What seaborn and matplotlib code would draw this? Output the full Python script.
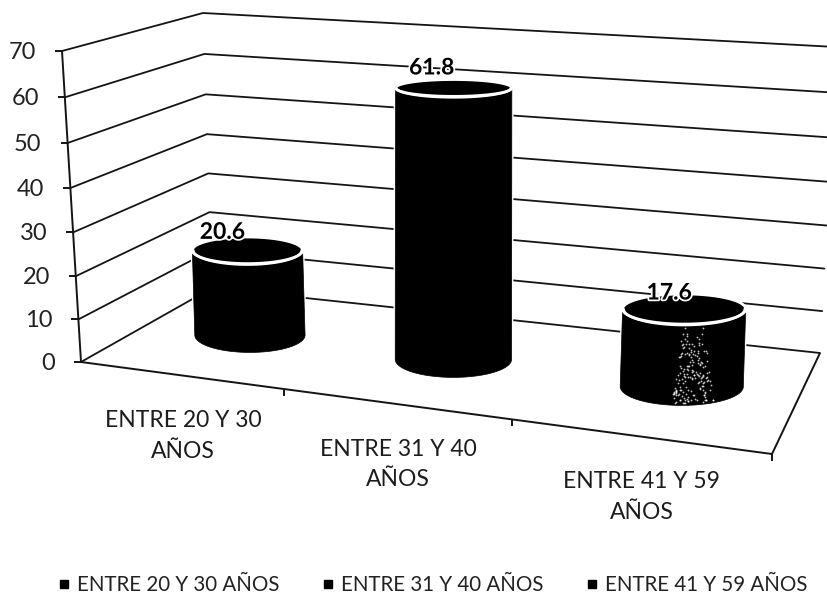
import numpy as np
import pandas as pd
import matplotlib
matplotlib.use("Agg")
import matplotlib.pyplot as plt
import matplotlib.patheffects as pe
from matplotlib.lines import Line2D
import seaborn as sns

# Chart data
categories = ["ENTRE 20 Y 30 AÑOS", "ENTRE 31 Y 40 AÑOS", "ENTRE 41 Y 59 AÑOS"]
wrapped_labels = ["ENTRE 20 Y 30\nAÑOS", "ENTRE 31 Y 40\nAÑOS", "ENTRE 41 Y 59\nAÑOS"]
values = [20.6, 61.8, 17.6]
y_ticks = [0, 10, 20, 30, 40, 50, 60, 70]
y_max = 70

# Box corners on the canvas: front-left, front-right, back-right, back-left
floor_corners = [(81, 362), (772, 454), (820, 353), (212, 288)]
ceiling_corners = [(62, 51), (802, 111), (836, 47), (203, 13)]
cylinder_depth = 0.49
cylinder_offset = 0.012

sns.set_theme(style="white")
plt.rcParams["font.family"] = ["Lato", "DejaVu Sans"]


def homography(corners):
    """Map the unit square (u along categories, d into depth) onto four corners."""
    src = [(0, 0), (1, 0), (1, 1), (0, 1)]
    A, b = [], []
    for (u, d), (x, y) in zip(src, corners):
        A.append([u, d, 1, 0, 0, 0, -u * x, -d * x])
        A.append([0, 0, 0, u, d, 1, -u * y, -d * y])
        b += [x, y]
    return np.append(np.linalg.solve(np.array(A, float), np.array(b, float)), 1).reshape(3, 3)


H_floor = homography(floor_corners)
H_ceiling = homography(ceiling_corners)


def project(u, d, v):
    """Canvas position of category position u, depth d and value v."""
    p = np.array([u, d, 1.0])
    a = H_floor @ p
    c = H_ceiling @ p
    a, c = a[:2] / a[2], c[:2] / c[2]
    t = v / y_max
    t = t / (t + 1.05 * (1 - t))  # upper gridlines sit slightly further apart
    return a + (c - a) * t


fig = plt.figure(figsize=(8.28, 5.94), dpi=100)
ax = fig.add_axes([0, 0, 1, 1])

# Gridlines run along the left wall and then across the back wall
rows = []
for tick in y_ticks:
    for order, (u, d) in enumerate([(0, 0), (0, 1), (1, 1)]):
        x, y = project(u, d, tick)
        rows.append({"level": tick, "order": order, "x": x, "y": y})
grid = pd.DataFrame(rows)
sns.lineplot(data=grid, x="x", y="y", units="level", estimator=None, sort=False,
             color="#141414", linewidth=1.3, ax=ax, legend=False, zorder=1)
ax.set_xlim(0, 828)
ax.set_ylim(594, 0)
ax.axis("off")

line_style = dict(color="#141414", lw=1.4, zorder=1, solid_capstyle="butt")

# Left axis with its ticks and labels
axis_pts = np.array([project(0, 0, t) for t in y_ticks])
ax.plot(axis_pts[:, 0], axis_pts[:, 1], **line_style)
for tick, (x, y) in zip(y_ticks, axis_pts):
    ax.plot([x - 7, x], [y, y], **line_style)
    ax.text(x - 26, y + 1.5, str(tick), ha="right", va="center", fontsize=17, color="#222222")

# Floor edges and category ticks
edge = np.array([project(0, 0, 0), project(1, 0, 0), project(1, 1, 0)])
ax.plot(edge[:, 0], edge[:, 1], **line_style)
for i in range(1, len(categories) + 1):
    x, y = project(i / len(categories), 0, 0)
    ax.plot([x, x], [y, y + 7], **line_style)


def ellipse_half_height(y):
    # Ellipses open up as they sit lower on the canvas
    return 8.4 + 0.03 * (y - 87)


def cylinder_half_width(base_y):
    # Nearer cylinders, lower on the canvas, look wider
    return 55 + 0.125 * (base_y - 334)


def speckle_noise(n, seed):
    return (np.sin(n * seed) * 43758.5453) % 1


def draw_cylinder(u, value, speckled):
    bx, by = project(u, cylinder_depth, 0)
    _, ty = project(u, cylinder_depth, value)
    tx = bx + 0.09 * (u - 0.5) * (by - ty)
    half = cylinder_half_width(by)
    hb, ht = ellipse_half_height(by) + 1.5, ellipse_half_height(ty)
    t = np.linspace(0, np.pi, 80)
    # Body: lower arc of the base closed against the lower arc of the top
    xs = np.r_[bx + half * np.cos(t), tx - half * np.cos(t)]
    ys = np.r_[by + hb * np.sin(t), ty + ht * np.sin(t)]
    ax.fill(xs, ys, color="black", ec="white", lw=2.5, zorder=3)
    ax.fill(xs, ys, color="black", ec="black", lw=0.5, zorder=3)
    full = np.linspace(0, 2 * np.pi, 120)
    ax.fill(tx + half * np.cos(full), ty + ht * np.sin(full), color="black",
            ec="white", lw=2.0, zorder=3)
    # Pale rim along the front of the top face
    ax.plot(tx + (half - 1) * np.cos(t), ty + (ht + 1) * np.sin(t), color="white", lw=1.8, zorder=4)
    if speckled:
        # Worn toner streak down the front of the cylinder
        n = np.arange(1, 170)
        fy = speckle_noise(n, 12.9898) ** 0.6
        fx = speckle_noise(n, 78.233)
        spread = 22 + 20 * fy
        sx = tx + 9 + (fx - 0.5) * spread
        sy = ty + ht + 3 + fy * (by + hb - ty - ht - 5)
        ax.scatter(sx, sy, s=1.7, color="white", alpha=0.75, linewidths=0, zorder=5)
    return tx, ty


label_shift = [(-25, -18), (-22, -20), (-15, -16)]
n_cat = len(categories)
for i, (val, label, shift) in enumerate(zip(values, wrapped_labels, label_shift)):
    u = (i + 0.5) / n_cat
    tx, ty = draw_cylinder(u + cylinder_offset, val, speckled=(i == 2))
    ax.text(tx + shift[0], ty + shift[1], f"{val}", ha="center", va="center", fontsize=16.5,
            fontweight="bold", color="black", zorder=6,
            path_effects=[pe.withStroke(linewidth=2.5, foreground="white")])
    fx, fy = project(u, 0, 0)
    ax.text(fx + 4, fy + 61, label, ha="center", va="center", fontsize=16.5, color="#1c1c1c",
            linespacing=1.55)

handles = [Line2D([], [], marker="s", ls="", color="black", markersize=5.5) for _ in categories]
ax.legend(handles, categories, loc="center", bbox_to_anchor=(430.5 / 828, 1 - 585 / 594), ncol=3,
          frameon=False, fontsize=14.8, handlelength=1, handletextpad=0.13, columnspacing=1.88,
          labelcolor="#222222")

fig.savefig("out.png", dpi=100, facecolor="white")
